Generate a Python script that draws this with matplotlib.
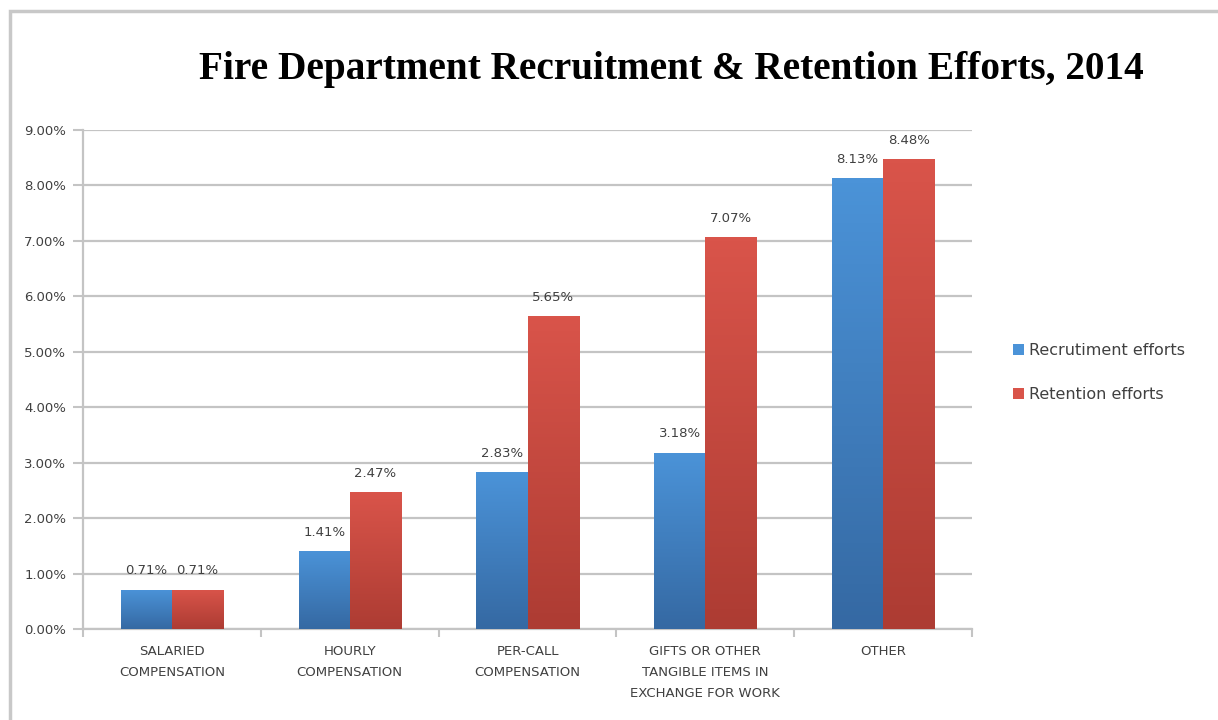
import numpy as np
import matplotlib.pyplot as plt
from matplotlib.patches import Rectangle
from matplotlib.colors import LinearSegmentedColormap

categories = ["SALARIED\nCOMPENSATION", "HOURLY\nCOMPENSATION", "PER-CALL\nCOMPENSATION",
              "GIFTS OR OTHER\nTANGIBLE ITEMS IN\nEXCHANGE FOR WORK", "OTHER"]
recruitment = [0.71, 1.41, 2.83, 3.18, 8.13]
retention = [0.71, 2.47, 5.65, 7.07, 8.48]
series_names = ["Recrutiment efforts", "Retention efforts"]

blue_top, blue_bot = "#4b93d8", "#3569a3"
red_top, red_bot = "#d9544a", "#ad3c33"
text_col = "#404040"
grid_col = "#c4c4c4"

fig = plt.figure(figsize=(12.18, 7.2), dpi=100)
ax = fig.add_axes([83 / 1218, 1 - 629 / 720, 889 / 1218, 499 / 720])

# outer frame of the chart area
fig.patches.append(Rectangle((10 / 1218, -0.01), 1.02, 1 - 11 / 720 + 0.01, transform=fig.transFigure,
                             fill=False, edgecolor="#c8c8c8", lw=2.5))

x = np.arange(len(categories))
w = 0.287


def gradient_bars(xs, vals, top, bot):
    cmap = LinearSegmentedColormap.from_list("g", [bot, top])
    grad = np.linspace(0, 1, 100).reshape(-1, 1)
    bars = ax.bar(xs, vals, w, color=top, zorder=2)
    for b in bars:
        bx, by = b.get_x(), b.get_y()
        bw, bh = b.get_width(), b.get_height()
        im = ax.imshow(grad, cmap=cmap, origin="lower", aspect="auto",
                       extent=[bx, bx + bw, by, by + bh], zorder=3)
        im.set_clip_path(b)
    return bars


b1 = gradient_bars(x - w / 2, recruitment, blue_top, blue_bot)
b2 = gradient_bars(x + w / 2, retention, red_top, red_bot)

for xs, vals in [(x - w / 2, recruitment), (x + w / 2, retention)]:
    for xi, v in zip(xs, vals):
        ax.text(xi, v + 0.22, f"{v:.2f}%", ha="center", va="bottom",
                fontsize=9.5, color=text_col, zorder=4)

ax.set_xlim(-0.5, len(categories) - 0.5)
ax.set_ylim(0, 9)
ax.set_yticks(np.arange(0, 10, 1))
ax.set_yticklabels([f"{v:.2f}%" for v in range(10)], fontsize=9.5, color=text_col)
ax.yaxis.grid(True, color=grid_col, lw=1.6, zorder=0)
ax.set_axisbelow(True)

ax.set_xticks(x)
ax.set_xticklabels(categories, fontsize=9.5, color=text_col, linespacing=1.78)
ax.set_xticks(np.arange(-0.5, len(categories)), minor=True)
ax.tick_params(axis="x", which="major", length=0, pad=11.5)
ax.tick_params(axis="x", which="minor", length=6, color=grid_col, width=1.5)
ax.tick_params(axis="y", length=7, color=grid_col, width=1.5, pad=5)

for s in ["top", "right"]:
    ax.spines[s].set_visible(False)
for s in ["left", "bottom"]:
    ax.spines[s].set_color(grid_col)
    ax.spines[s].set_linewidth(1.6)

fig.text(671 / 1218, 1 - 69 / 720, "Fire Department Recruitment & Retention Efforts, 2014",
         ha="center", va="center", fontsize=28.3, fontweight="bold", family="Liberation Serif")

ax.legend([b1[0], b2[0]], series_names, loc="center left", bbox_to_anchor=(1.03, 0.514),
          frameon=False, fontsize=11.5, handlelength=0.7, handleheight=0.7,
          labelspacing=1.8, handletextpad=0.3, labelcolor=text_col)

fig.savefig("out.png", dpi=100)
